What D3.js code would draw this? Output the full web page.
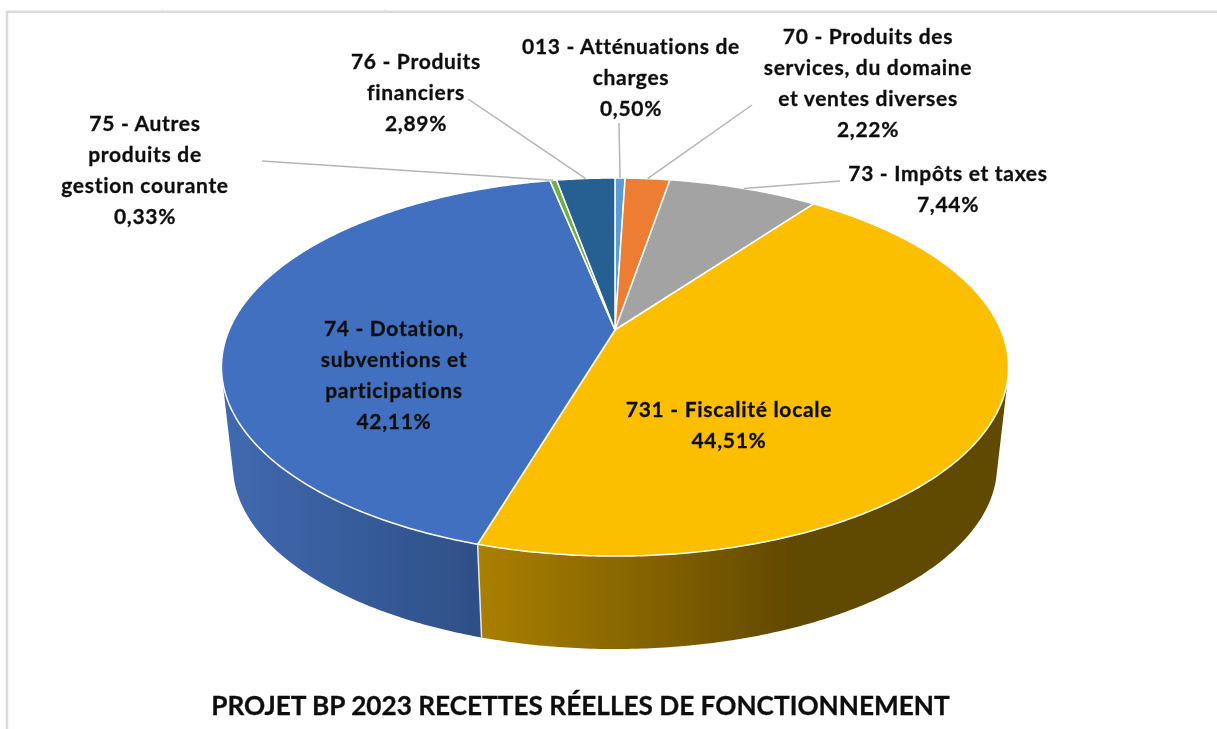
<!DOCTYPE html>
<html>
<head>
<meta charset="utf-8">
<script src="https://cdn.jsdelivr.net/npm/d3@7"></script>
<style>
    html, body { margin: 0; padding: 0; background: #fff; overflow: hidden; }
    svg { display: block; }
    text { font-family: Lato, "Open Sans", sans-serif; font-weight: 700; fill: #111; stroke: #111; stroke-width: 0.3; text-anchor: middle; }
</style>
</head>
<body>
<div id="chart"></div>
<script>
const categories = [
    ["013 - Atténuations de", "charges"],
    ["70 - Produits des", "services, du domaine", "et ventes diverses"],
    ["73 - Impôts et taxes"],
    ["731 - Fiscalité locale"],
    ["74 - Dotation,", "subventions et", "participations"],
    ["75 - Autres", "produits de", "gestion courante"],
    ["76 - Produits", "financiers"]
];
const values = [0.50, 2.22, 7.44, 44.51, 42.11, 0.33, 2.89];
const valueLabels = ["0,50%", "2,22%", "7,44%", "44,51%", "42,11%", "0,33%", "2,89%"];
const colors = ["#5b9bd5", "#ed7d31", "#a3a3a3", "#fcbf00", "#4270c0", "#70ad47", "#255e91"];
const title = "PROJET BP 2023 RECETTES RÉELLES DE FONCTIONNEMENT";

// where the first line of each label goes, and where its leader line starts
const labelX = [631, 868, 948, 729, 394, 145, 416];
const labelY = [47, 37, 174, 410, 329, 124, 62];
const leaderFrom = [[619, 123], [752, 105], [840, 181], null, null, [262, 161], [468, 99]];

const width = 1217, height = 729;
const lineHeight = 31;

// the pie is a disc seen in perspective: the apex sits above the centre of the ellipse
const cx = 615,
    perspective = 0.196,
    topDisc = { cy: 330, rx: 385.9, ry: 181.8 },
    bottomDisc = { cy: 429.5, rx: 374.7, ry: 176.5 };

function project(disc, angle) {
    var u = Math.sin(angle), v = -Math.cos(angle);
    var w = 1 - perspective * v;
    return [cx + disc.rx * u / w, disc.cy + disc.ry * v / w];
}

function rimPoints(disc, a0, a1) {
    var n = Math.max(2, Math.ceil(Math.abs(a1 - a0) / 0.01));
    return d3.range(n + 1).map(function(i) { return project(disc, a0 + (a1 - a0) * i / n); });
}

const line = d3.line();
const arcs = d3.pie().sort(null).value(function(d) { return d; })(values);

const svg = d3.select("#chart").append("svg")
    .attr("width", width)
    .attr("height", height);

const defs = svg.append("defs");
defs.append("filter").attr("id", "soft")
    .append("feGaussianBlur").attr("stdDeviation", 0.45);

function wallGradient(id, x1, x2, stops) {
    var g = defs.append("linearGradient").attr("id", id)
        .attr("gradientUnits", "userSpaceOnUse")
        .attr("x1", x1).attr("x2", x2).attr("y1", 0).attr("y2", 0);
    stops.forEach(function(s) {
        g.append("stop").attr("offset", s[0]).attr("stop-color", s[1]);
    });
}
wallGradient("wallYellow", 482, 800, [[0, "#a97f00"], [0.53, "#836200"], [1, "#604800"]]);
wallGradient("wallBlue", 225, 482, [[0, "#4169b0"], [0.5, "#375c9b"], [1, "#2e4f86"]]);

// chart frame
svg.append("path").attr("d", "M7,729V11.7H1217")
    .attr("fill", "none").attr("stroke", "#dcdcdc").attr("stroke-width", 2.6);
svg.append("g").selectAll("path").data([162, 385]).join("path")
    .attr("d", function(d) { return "M" + d + ",9V11"; })
    .attr("stroke", "#e4e4e4");

const chart = svg.append("g").attr("filter", "url(#soft)");

// walls, only the two big slices reach the front
const wallFrom = 104 * Math.PI / 180, wallTo = 256 * Math.PI / 180;
const seam = arcs[3].endAngle;
const walls = [
    { a0: wallFrom, a1: seam, fill: "url(#wallYellow)" },
    { a0: seam, a1: wallTo, fill: "url(#wallBlue)" }
];
chart.append("g").selectAll("path").data(walls).join("path")
    .attr("d", function(d) {
        return line(rimPoints(topDisc, d.a0, d.a1).concat(rimPoints(bottomDisc, d.a1, d.a0))) + "Z";
    })
    .attr("fill", function(d) { return d.fill; });
chart.append("path")
    .attr("d", line([project(topDisc, seam), project(bottomDisc, seam)]))
    .attr("stroke", "#e8e8e8").attr("stroke-width", 1.5);

// top face
chart.append("g").selectAll("path").data(arcs).join("path")
    .attr("d", function(d) {
        return line([[cx, topDisc.cy]].concat(rimPoints(topDisc, d.startAngle, d.endAngle))) + "Z";
    })
    .attr("fill", function(d, i) { return colors[i]; })
    .attr("stroke", "#fff")
    .attr("stroke-width", 1.5)
    .attr("stroke-linejoin", "round");

// leader lines
chart.append("g").selectAll("path").data(arcs).join("path")
    .filter(function(d, i) { return leaderFrom[i]; })
    .attr("d", function(d, i) {
        return line([leaderFrom[d.index], project(topDisc, (d.startAngle + d.endAngle) / 2)]);
    })
    .attr("fill", "none")
    .attr("stroke", "#b5b5b5")
    .attr("stroke-width", 1.5);

// labels
const labels = chart.append("g").attr("font-size", 21).attr("letter-spacing", 0.7);
categories.forEach(function(lines, i) {
    var t = labels.append("text").attr("x", labelX[i]);
    lines.concat([valueLabels[i]]).forEach(function(s, j) {
        t.append("tspan")
            .attr("x", labelX[i])
            .attr("y", labelY[i] + j * lineHeight + 7)
            .text(s);
    });
});

chart.append("text")
    .attr("x", 580.5)
    .attr("y", 715)
    .attr("font-size", 26.2)
    .text(title);
</script>
</body>
</html>
